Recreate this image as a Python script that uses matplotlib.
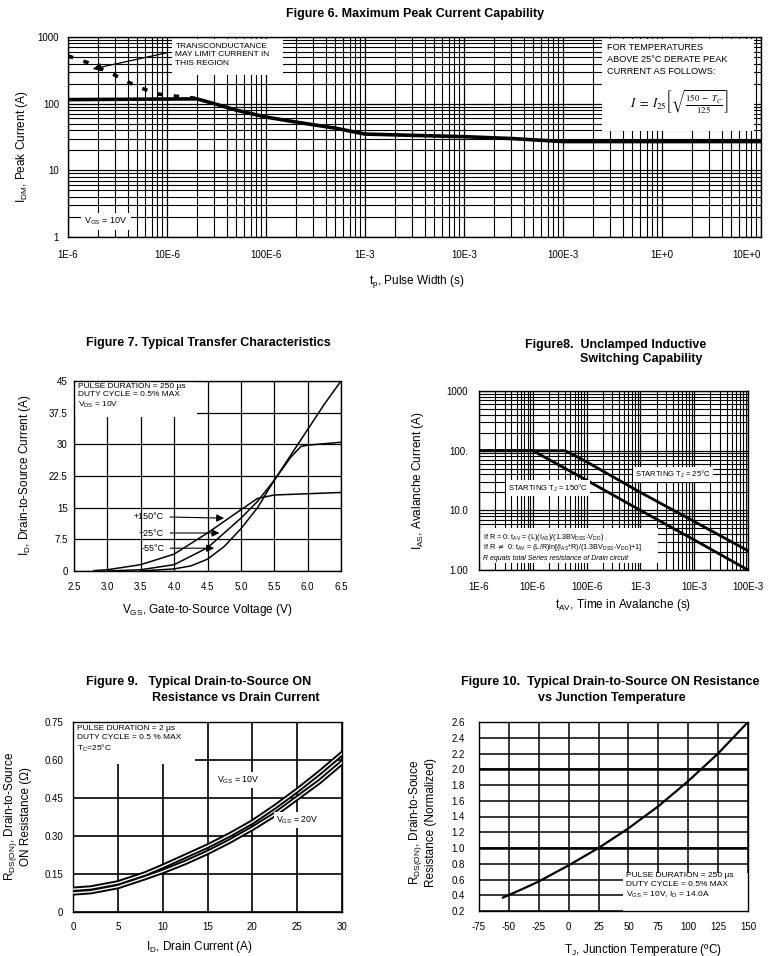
import matplotlib
matplotlib.use('Agg')
import matplotlib.pyplot as plt
from matplotlib.patches import Rectangle
from matplotlib.ticker import NullFormatter

plt.rcParams['font.family'] = ['Liberation Sans', 'DejaVu Sans']
plt.rcParams['axes.unicode_minus'] = False

# ---- Figure 6 data
f6_tp = [1e-6, 2e-5, 3e-5, 5e-5, 1e-4, 2e-4, 5e-4, 1e-3, 3e-3, 1e-2, 3e-2, 1e-1, 1, 10]
f6_idm = [115, 118, 100, 80, 63, 53, 43, 35, 33.5, 32, 30, 27, 27, 27]
f6_tp_dash = [1e-6, 1.6e-6, 2.8e-6, 5e-6, 8e-6, 1.2e-5, 2e-5]
f6_idm_dash = [520, 410, 280, 180, 140, 130, 120]
f6_xticks = [1e-6, 1e-5, 1e-4, 1e-3, 1e-2, 1e-1, 1, 10]
f6_xlabels = ['1E-6', '10E-6', '100E-6', '1E-3', '10E-3', '100E-3', '1E+0', '10E+0']
f6_yticks = [1, 10, 100, 1000]
f6_ylabels = ['1', '10', '100', '1000']

# ---- Figure 7 data
f7_v150 = [2.8, 3.0, 3.5, 4.0, 4.5, 5.0, 5.25, 5.5, 6.0, 6.5]
f7_i150 = [0.1, 0.3, 1.5, 4.0, 9.0, 14.5, 17.2, 18.0, 18.3, 18.6]
f7_v25 = [3.0, 3.5, 4.0, 4.5, 5.0, 5.25, 5.5, 5.75, 5.9, 6.0, 6.5]
f7_i25 = [0.0, 0.3, 1.5, 5.5, 12.5, 16.5, 21.5, 27.0, 29.5, 29.8, 30.5]
f7_v55 = [3.5, 4.0, 4.25, 4.5, 4.75, 5.0, 5.25, 5.5, 5.75, 6.0, 6.25, 6.5]
f7_i55 = [0.0, 0.5, 1.2, 2.8, 5.8, 10.0, 15.0, 21.5, 27.5, 33.5, 39.5, 45.0]
f7_xticks = [2.5, 3.0, 3.5, 4.0, 4.5, 5.0, 5.5, 6.0, 6.5]
f7_yticks = [0, 7.5, 15, 22.5, 30, 37.5, 45]
f7_ylabels = ['0', '7.5', '15', '22.5', '30', '37.5', '45']

# ---- Figure 8 data
f8_t150 = [1e-6, 1e-5, 1e-4, 1e-3, 1e-2, 1e-1]
f8_i150 = [100, 100, 32, 10, 3.2, 1.0]
f8_t25 = [1e-6, 4e-5, 1e-4, 1e-3, 1e-2, 1e-1]
f8_i25 = [100, 100, 65, 20, 6.5, 2.1]
f8_xticks = [1e-6, 1e-5, 1e-4, 1e-3, 1e-2, 1e-1]
f8_xlabels = ['1E-6', '10E-6', '100E-6', '1E-3', '10E-3', '100E-3']
f8_yticks = [1, 10, 100, 1000]
f8_ylabels = ['1.00', '10.0', '100.', '1000']

# ---- Figure 9 data
f9_id = [0, 2, 5, 8, 10, 12.5, 15, 17.5, 20, 22.5, 25, 27.5, 30]
f9_r10 = [0.09, 0.095, 0.115, 0.15, 0.18, 0.22, 0.26, 0.305, 0.355, 0.415, 0.48, 0.55, 0.625]
f9_r20 = [0.075, 0.08, 0.10, 0.135, 0.16, 0.195, 0.235, 0.28, 0.33, 0.385, 0.45, 0.515, 0.59]
f9_xticks = [0, 5, 10, 15, 20, 25, 30]
f9_yticks = [0, 0.15, 0.30, 0.45, 0.60, 0.75]
f9_ylabels = ['0', '0.15', '0.30', '0.45', '0.60', '0.75']

# ---- Figure 10 data
f10_tj = [-55, -40, -25, 0, 25, 50, 75, 100, 125, 150]
f10_r = [0.37, 0.47, 0.575, 0.78, 1.0, 1.25, 1.53, 1.85, 2.2, 2.6]
f10_xticks = [-75, -50, -25, 0, 25, 50, 75, 100, 125, 150]
f10_yticks = [0.2, 0.4, 0.6, 0.8, 1.0, 1.2, 1.4, 1.6, 1.8, 2.0, 2.2, 2.4, 2.6]

W, H = 776, 956
fig = plt.figure(figsize=(W / 100, H / 100), dpi=100)


def pbox(l, t, r, b):
    return [l / W, 1 - b / H, (r - l) / W, (b - t) / H]


def style(ax, lw=0.9, xpad=6, ypad=5):
    ax.set_axisbelow(True)
    ax.tick_params(which='both', length=0, labelsize=7)
    ax.tick_params(axis='x', pad=xpad)
    ax.tick_params(axis='y', pad=ypad)
    for s in ax.spines.values():
        s.set_linewidth(1.0)
        s.set_color('black')
    ax.grid(True, which='major', color='black', lw=lw)


def lbl(ax, x, y, s, rot=0, size=8.5):
    ax.text(x, y, s, transform=ax.transAxes, rotation=rot, ha='center', va='center',
            fontsize=size, linespacing=1.2)


TB = dict(fontsize=9, weight='bold', va='center')

# ================= Figure 6
ax6 = fig.add_axes(pbox(68, 37, 761, 237))
ax6.set_xscale('log')
ax6.set_yscale('log')
ax6.set_xlim(1e-6, 10)
ax6.set_ylim(1, 1000)
style(ax6, xpad=9, ypad=6.5)
ax6.grid(True, which='minor', color='black', lw=0.8)
ax6.set_xticks(f6_xticks, f6_xlabels)
ax6.set_yticks(f6_yticks, f6_ylabels)
ax6.get_xticklabels()[-1].set_ha('right')
ax6.xaxis.set_minor_formatter(NullFormatter())
ax6.yaxis.set_minor_formatter(NullFormatter())
ax6.plot(f6_tp, f6_idm, color='black', lw=2.6, zorder=3)
ax6.plot(f6_tp_dash, f6_idm_dash, color='black', lw=2.6, dashes=(1.5, 3), zorder=3)
ax6.add_patch(Rectangle((0.15, 0.81), 0.16, 0.18, transform=ax6.transAxes,
                        facecolor='white', edgecolor='none', zorder=1.5))
ax6.text(0.155, 0.97, 'TRANSCONDUCTANCE\nMAY LIMIT CURRENT IN\nTHIS REGION',
         transform=ax6.transAxes, fontsize=6, va='top', linespacing=1.3, zorder=4)
ax6.annotate('', xy=(1.67e-6, 325), xytext=(1.05e-5, 590),
             arrowprops=dict(arrowstyle='-|>', color='black', lw=0.9, mutation_scale=12),
             zorder=4)
ax6.add_patch(Rectangle((0.77, 0.53), 0.22, 0.46, transform=ax6.transAxes,
                        facecolor='white', edgecolor='none', zorder=1.5))
ax6.text(0.778, 0.97, 'FOR TEMPERATURES\nABOVE 25\u00b0C DERATE PEAK\nCURRENT AS FOLLOWS:',
         transform=ax6.transAxes, fontsize=6.6, va='top', linespacing=1.4, zorder=4)
ax6.text(0.883, 0.67, r'$I\ =\ I_{25}\left[\sqrt{\frac{150\ -\ T_C}{125}}\right]$',
         transform=ax6.transAxes, fontsize=9, ha='center', va='center',
         math_fontfamily='stix', zorder=4)
ax6.text(0.055, 0.077, r'$\mathregular{V_{GS}}$ = 10V', transform=ax6.transAxes,
         fontsize=6.5, ha='center', va='center', zorder=4,
         bbox=dict(facecolor='white', edgecolor='none', pad=2))
lbl(ax6, -0.066, 0.45, r'$\mathregular{I_{DM}}$, Peak Current (A)', rot=90)
lbl(ax6, 0.504, -0.223, r'$\mathregular{t_p}$, Pulse Width (s)')
fig.text(415 / W, 1 - 14 / H, 'Figure 6. Maximum Peak Current Capability', ha='center', **TB)

# ================= Figure 7
ax7 = fig.add_axes(pbox(74, 381, 341, 571))
ax7.set_xlim(2.5, 6.5)
ax7.set_ylim(0, 45)
style(ax7, xpad=8, ypad=4.5)
ax7.set_xticks(f7_xticks)
ax7.set_yticks(f7_yticks, f7_ylabels)
ax7.add_patch(Rectangle((2.5, 36.5), 1.85, 8.5, facecolor='white', edgecolor='none', zorder=1.5))
ax7.text(2.56, 44.6, 'PULSE DURATION = 250 \u00b5s\nDUTY CYCLE = 0.5% MAX\n$\\mathregular{V_{DS}}$ = 10V',
         fontsize=6, va='top', linespacing=1.3, zorder=4)
ax7.plot(f7_v150, f7_i150, color='black', lw=1.1, zorder=3)
ax7.plot(f7_v25, f7_i25, color='black', lw=1.1, zorder=3)
ax7.plot(f7_v55, f7_i55, color='black', lw=1.1, zorder=3)
for txt, ty, hx, hy in [('+150\u00b0C', 12.8, 4.79, 12.5),
                        ('+25\u00b0C', 9.0, 4.72, 9.0),
                        ('-55\u00b0C', 5.4, 4.64, 5.4)]:
    ax7.text(3.85, ty, txt, fontsize=6.5, ha='right', va='center', zorder=4)
    ax7.annotate('', xy=(hx, hy), xytext=(3.9, ty),
                 arrowprops=dict(arrowstyle='-|>', color='black', lw=0.8, mutation_scale=11),
                 zorder=4)
lbl(ax7, -0.184, 0.505, r'$\mathregular{I_D}$, Drain-to-Source Current (A)', rot=90)
lbl(ax7, 0.498, -0.205, r'$\mathregular{V_{GS}}$, Gate-to-Source Voltage (V)')
fig.text(208 / W, 1 - 343 / H, 'Figure 7. Typical Transfer Characteristics', ha='center', **TB)

# ================= Figure 8
ax8 = fig.add_axes(pbox(479, 391, 748, 570))
ax8.set_xscale('log')
ax8.set_yscale('log')
ax8.set_xlim(1e-6, 1e-1)
ax8.set_ylim(1, 1000)
style(ax8, xpad=9, ypad=8)
ax8.grid(True, which='minor', color='black', lw=0.8)
ax8.set_xticks(f8_xticks, f8_xlabels)
ax8.set_yticks(f8_yticks, f8_ylabels)
ax8.xaxis.set_minor_formatter(NullFormatter())
ax8.yaxis.set_minor_formatter(NullFormatter())
ax8.plot(f8_t150, f8_i150, color='black', lw=2.0, zorder=3)
ax8.plot(f8_t25, f8_i25, color='black', lw=2.0, zorder=3)
wb = dict(facecolor='white', edgecolor='none', pad=1.5)
ax8.text(4e-3, 40, 'STARTING $\\mathregular{T_J}$ = 25\u00b0C', fontsize=5.5,
         ha='center', va='center', bbox=wb, zorder=4)
ax8.text(1.9e-5, 23.6, 'STARTING $\\mathregular{T_J}$ = 150\u00b0C', fontsize=5.5,
         ha='center', va='center', bbox=wb, zorder=4)
ax8.add_patch(Rectangle((0.0, 0.04), 0.665, 0.195, transform=ax8.transAxes,
                        facecolor='white', edgecolor='none', zorder=1.5))
ax8.text(0.015, 0.184, r'If R = 0: $\mathregular{t_{AV}}$ = (L)($\mathregular{I_{AS}}$)/(1.3BV$\mathregular{_{DSS}}$-V$\mathregular{_{DD}}$)',
         transform=ax8.transAxes, fontsize=5.2, va='center', zorder=4)
ax8.text(0.015, 0.123, r'If R $\neq$ 0: $\mathregular{t_{AV}}$ = (L/R)ln[($\mathregular{I_{AS}}$*R)/(1.3BV$\mathregular{_{DSS}}$-V$\mathregular{_{DD}}$)+1]',
         transform=ax8.transAxes, fontsize=5.2, va='center', zorder=4)
ax8.text(0.015, 0.067, 'R equals total Series resistance of Drain circuit',
         transform=ax8.transAxes, fontsize=5.0, style='italic', va='center', zorder=4)
lbl(ax8, -0.227, 0.50, r'$\mathregular{I_{AS}}$, Avalanche Current (A)', rot=90)
lbl(ax8, 0.535, -0.196, r'$\mathregular{t_{AV}}$, Time in Avalanche (s)')
fig.text(525 / W, 1 - 345 / H, 'Figure8.  Unclamped Inductive', ha='left', **TB)
fig.text(580 / W, 1 - 359 / H, 'Switching Capability', ha='left', **TB)

# ================= Figure 9
ax9 = fig.add_axes(pbox(73, 722, 342, 912))
ax9.set_xlim(0, 30)
ax9.set_ylim(0, 0.75)
style(ax9, lw=1.2, xpad=7, ypad=7)
ax9.set_xticks(f9_xticks)
ax9.set_yticks(f9_yticks, f9_ylabels)
ax9.add_patch(Rectangle((0, 0.585), 13.6, 0.165, facecolor='white', edgecolor='none', zorder=1.5))
ax9.text(0.4, 0.738, 'PULSE DURATION = 2 \u00b5s\nDUTY CYCLE = 0.5 % MAX\n$\\mathregular{T_C}$=25\u00b0C',
         fontsize=6, va='top', linespacing=1.3, zorder=4)
for r in (f9_r10, f9_r20):
    ax9.plot(f9_id, r, color='black', lw=3.8, zorder=3)
    ax9.plot(f9_id, r, color='white', lw=1.0, zorder=3.1)
ax9.text(18.4, 0.52, r'$\mathregular{V_{GS}}$ = 10V', fontsize=6.3, ha='center', va='center',
         bbox=wb, zorder=4)
ax9.text(25.0, 0.363, r'$\mathregular{V_{GS}}$ = 20V', fontsize=6.3, ha='center', va='center',
         bbox=wb, zorder=4)
lbl(ax9, -0.208, 0.505, 'R$\\mathregular{_{DS(ON)}}$, Drain-to-Source\nON Resistance (\u03a9)', rot=90)
lbl(ax9, 0.472, -0.184, r'$\mathregular{I_D}$, Drain Current (A)')
fig.text(86 / W, 1 - 682 / H, 'Figure 9.   Typical Drain-to-Source ON', ha='left', **TB)
fig.text(152 / W, 1 - 698 / H, 'Resistance vs Drain Current', ha='left', **TB)

# ================= Figure 10
ax10 = fig.add_axes(pbox(479, 722, 748, 911))
ax10.set_xlim(-75, 150)
ax10.set_ylim(0.2, 2.6)
style(ax10, lw=1.1, xpad=8, ypad=10)
ax10.set_xticks(f10_xticks)
ax10.set_yticks(f10_yticks)
ax10.axhline(1.0, color='black', lw=1.8, zorder=0.6)
ax10.axhline(2.0, color='black', lw=1.8, zorder=0.6)
ax10.add_patch(Rectangle((45.4, 0.2), 104.6, 0.48, facecolor='white', edgecolor='none', zorder=1.5))
ax10.text(0.546, 0.205, 'PULSE DURATION = 250 \u00b5s\nDUTY CYCLE = 0.5% MAX\n$\\mathregular{V_{GS}}$ = 10V, $\\mathregular{I_D}$ = 14.0A',
          transform=ax10.transAxes, fontsize=6, va='top', linespacing=1.3, zorder=4)
ax10.plot(f10_tj, f10_r, color='black', lw=1.6, zorder=3)
lbl(ax10, -0.212, 0.47, 'R$\\mathregular{_{DS(ON)}}$, Drain-to-Souce\nResistance (Normalized)', rot=90)
lbl(ax10, 0.61, -0.206, '$\\mathregular{T_J}$, Junction Temperature (\u00baC)')
fig.text(461 / W, 1 - 682 / H, 'Figure 10.  Typical Drain-to-Source ON Resistance', ha='left', **TB)
fig.text(538 / W, 1 - 698 / H, 'vs Junction Temperature', ha='left', **TB)

fig.savefig('out.png', dpi=100, facecolor='white')
